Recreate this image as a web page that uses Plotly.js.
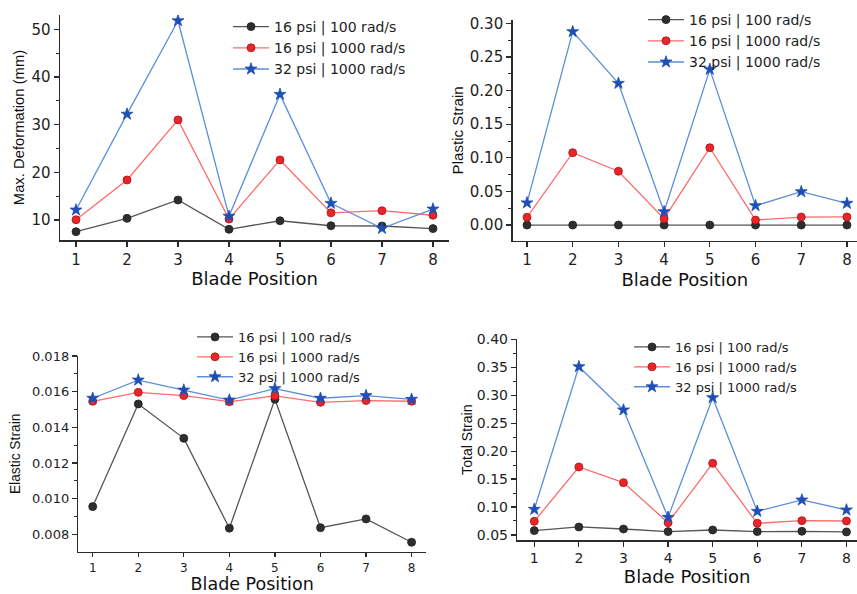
<!DOCTYPE html>
<html>
<head>
<meta charset="utf-8">
<script src="https://cdn.plot.ly/plotly-3.0.1.min.js"></script>
<style>html,body{margin:0;padding:0;background:#fff;}#plot{width:857px;height:594px;}</style>
</head>
<body>
<div id="plot"></div>
<script>
// ---------- data ----------
const bladePositions = [1, 2, 3, 4, 5, 6, 7, 8];
const seriesNames = ["16 psi | 100 rad/s", "16 psi | 1000 rad/s", "32 psi | 1000 rad/s"];

const deform16_100  = [7.55, 10.35, 14.2, 8.05, 9.85, 8.8, 8.75, 8.2];
const deform16_1000 = [10.07, 18.4, 31.0, 10.2, 22.6, 11.5, 11.95, 11.0];
const deform32_1000 = [12.1, 32.2, 51.8, 10.8, 36.35, 13.5, 8.25, 12.3];

const plastic16_100  = [0, 0, 0, 0, 0, 0, 0, 0];
const plastic16_1000 = [0.0115, 0.1076, 0.080, 0.0094, 0.115, 0.0074, 0.0119, 0.012];
const plastic32_1000 = [0.033, 0.2877, 0.2108, 0.0198, 0.2316, 0.0288, 0.0496, 0.0323];

const elastic16_100  = [0.00955, 0.01531, 0.01338, 0.00834, 0.01557, 0.00837, 0.00886, 0.00755];
const elastic16_1000 = [0.01546, 0.01596, 0.01578, 0.01544, 0.01576, 0.0154, 0.0155, 0.01546];
const elastic32_1000 = [0.01563, 0.01665, 0.01609, 0.01553, 0.01617, 0.01563, 0.01578, 0.01557];

const total16_100  = [0.0578, 0.0643, 0.0607, 0.056, 0.0589, 0.056, 0.0566, 0.0554];
const total16_1000 = [0.0744, 0.1716, 0.1436, 0.072, 0.1782, 0.0709, 0.0756, 0.075];
const total32_1000 = [0.0959, 0.351, 0.2736, 0.0816, 0.2956, 0.0923, 0.1126, 0.0947];

const yTitles = ["Max. Deformation (mm)", "Plastic Strain", "Elastic Strain", "Total Strain"];
const xTitle = "Blade Position";

// ---------- styles ----------
const W = 857, H = 594;
const styles = [
  {line: '#555555', marker: '#2e2e2e', symbol: 'circle', size: 8, mline: '#222'},
  {line: '#ff6b6b', marker: '#e8262a', symbol: 'circle', size: 8, mline: '#b01010'},
  {line: '#5b8fd9', marker: '#1f4fb5', symbol: 'star', size: 9, mline: '#1f4fb5'}
];
const panelData = [
  [deform16_100, deform16_1000, deform32_1000],
  [plastic16_100, plastic16_1000, plastic32_1000],
  [elastic16_100, elastic16_1000, elastic32_1000],
  [total16_100, total16_1000, total32_1000]
];
const legendNames = ['legend', 'legend2', 'legend3', 'legend4'];

const traces = [];
panelData.forEach((group, p) => {
  group.forEach((ys, s) => {
    const st = styles[s];
    traces.push({
      type: 'scatter', mode: 'lines+markers',
      x: bladePositions, y: ys, name: seriesNames[s],
      xaxis: p === 0 ? 'x' : 'x' + (p + 1),
      yaxis: p === 0 ? 'y' : 'y' + (p + 1),
      legend: legendNames[p],
      line: {color: st.line, width: 1.3},
      marker: {color: st.marker, symbol: st.symbol, size: st.size, line: {color: st.mline, width: 0.8}}
    });
  });
});

// pixel boxes: [left, right, top, bottom]
const boxes = [
  [60, 449, 15, 240],
  [512.7, 857, 20, 240.7],
  [78.3, 426, 356, 551.7],
  [517.3, 857, 339.3, 540]
];
const xRanges = [[0.686, 8.314], [0.687, 8.22], [0.684, 8.316], [0.619, 8.236]];
const yRanges = [[5.81, 53.0], [-0.0233, 0.305], [0.00702, 0.018], [0.041, 0.40]];
const yDticks = [10, 0.05, 0.002, 0.05];
const yFormats = ['d', '.2f', '.3f', '.2f'];
const yTickSizes = [15, 15, 13, 14];
const xTickSizes = [15, 15, 12, 14];
const xTickLens = [5, 5, 4, 5];
const xTitleSizes = [18, 18, 17.5, 18];
const yTitleSizes = [14.8, 15.1, 13.8, 14.1];
const xStandoffs = [3, 3, 7, 2];
const yStandoffs = [3, 2, 8, 1];

const FONT = 'DejaVu Sans, Liberation Sans, Arial, sans-serif';
const NARROW = 'Liberation Sans, Arial, sans-serif';
const AXC = '#2a2a2a';

const layout = {
  width: W, height: H,
  margin: {l: 0, r: 0, t: 0, b: 0},
  paper_bgcolor: '#fff', plot_bgcolor: 'rgba(0,0,0,0)',
  font: {family: FONT, color: '#1e1e1e'},
  showlegend: true
};

boxes.forEach((b, i) => {
  const sx = i === 0 ? '' : String(i + 1);
  layout['xaxis' + sx] = {
    domain: [b[0] / W, b[1] / W], anchor: 'y' + sx,
    range: xRanges[i], tickmode: 'linear', tick0: 1, dtick: 1,
    showgrid: false, zeroline: false, showline: true, linecolor: AXC, linewidth: 1.5,
    ticks: 'outside', ticklen: xTickLens[i], tickwidth: 1.2, tickcolor: AXC,
    tickfont: {family: FONT, size: xTickSizes[i], color: '#1e1e1e'},
    title: {text: xTitle, font: {family: FONT, size: xTitleSizes[i], color: '#111'}, standoff: xStandoffs[i]},
    automargin: false
  };
  layout['yaxis' + sx] = {
    domain: [1 - b[3] / H, 1 - b[2] / H], anchor: 'x' + sx,
    range: yRanges[i], tickmode: 'linear', tick0: 0, dtick: yDticks[i], tickformat: yFormats[i],
    showgrid: false, zeroline: false, showline: true, linecolor: AXC, linewidth: 1.5,
    ticks: 'outside', ticklen: 5, tickwidth: 1.2, tickcolor: AXC,
    minor: {ticks: 'outside', ticklen: 3, tickwidth: 1, tickcolor: AXC, dtick: yDticks[i] / 2, showgrid: false},
    tickfont: {family: FONT, size: yTickSizes[i], color: '#1e1e1e'},
    title: {text: yTitles[i], font: {family: NARROW, size: yTitleSizes[i], color: '#111'}, standoff: yStandoffs[i]},
    automargin: false
  };
});

// legends: [lineStartPx, topPx, fontSize]
const legendPos = [[233, 11, 14], [648, 4, 14], [197, 322, 13], [634, 332, 13]];
legendPos.forEach((lp, i) => {
  layout[legendNames[i]] = {
    x: (lp[0] - 5) / W, y: 1 - lp[1] / H, xanchor: 'left', yanchor: 'top',
    bgcolor: 'rgba(0,0,0,0)', borderwidth: 0, itemwidth: 36,
    font: {family: FONT, size: lp[2], color: '#1e1e1e'}
  };
});

Plotly.newPlot('plot', traces, layout, {staticPlot: true, displayModeBar: false});
</script>
</body>
</html>
